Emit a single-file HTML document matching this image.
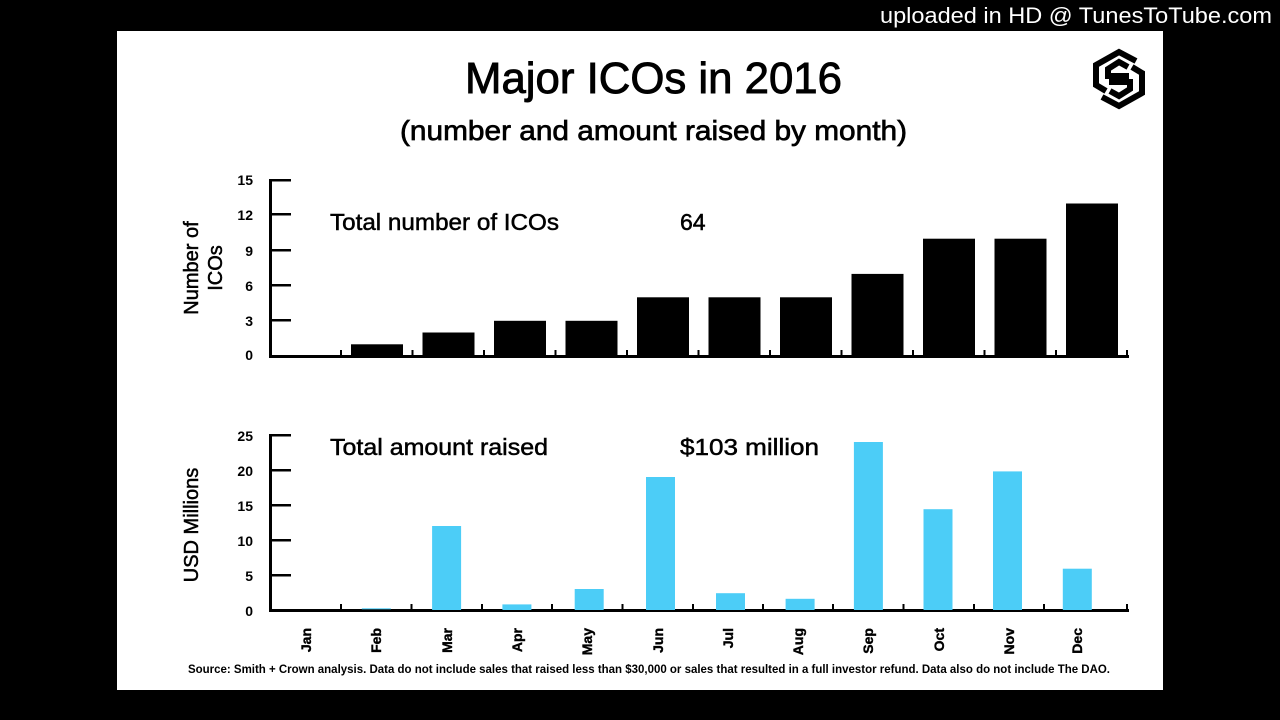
<!DOCTYPE html>
<html><head><meta charset="utf-8"><style>
html,body{margin:0;padding:0;background:#000;width:1280px;height:720px;overflow:hidden}
svg{display:block}
text{font-family:"Liberation Sans",sans-serif}
</style></head><body>
<svg width="1280" height="720" viewBox="0 0 1280 720" xmlns="http://www.w3.org/2000/svg">
<rect width="1280" height="720" fill="#000"/>
<text x="880" y="23" fill="#fff" font-size="22" textLength="392" lengthAdjust="spacingAndGlyphs">uploaded in HD @ TunesToTube.com</text>
<rect x="117" y="31" width="1046" height="659" fill="#fff"/>
<text x="465" y="93" font-size="44" fill="#000" stroke="#000" stroke-width="0.9" textLength="377" lengthAdjust="spacingAndGlyphs">Major ICOs in 2016</text>
<text x="400" y="140" font-size="28" fill="#000" stroke="#000" stroke-width="0.7" textLength="507" lengthAdjust="spacingAndGlyphs">(number and amount raised by month)</text>
<!-- logo -->
<g fill="none" stroke="#000" stroke-width="6" stroke-linejoin="miter">
<path d="M1136,61 L1119,52 L1096,65 L1096,85 L1106,91"/>
<path d="M1129,76 L1108,76 L1108,69 L1119,62 L1128,67"/>
<path d="M1102,97 L1119,106 L1142,93 L1142,73 L1132,67"/>
<path d="M1109,82 L1130,82 L1130,89 L1119,96 L1110,91"/>
</g>
<!-- top chart -->
<g fill="#000">
<text x="330" y="230" font-size="23" stroke="#000" stroke-width="0.5" textLength="229" lengthAdjust="spacingAndGlyphs">Total number of ICOs</text>
<text x="680" y="230" font-size="23" stroke="#000" stroke-width="0.5">64</text>
<g font-size="14" font-weight="bold" text-anchor="end">
<text x="253" y="185">15</text><text x="253" y="220">12</text><text x="253" y="256">9</text>
<text x="253" y="291">6</text><text x="253" y="326">3</text><text x="253" y="360">0</text>
</g>
<text transform="translate(198,268) rotate(-90)" font-size="20" stroke="#000" stroke-width="0.5" text-anchor="middle">Number of</text>
<text transform="translate(222,268) rotate(-90)" font-size="20" stroke="#000" stroke-width="0.5" text-anchor="middle">ICOs</text>
<rect x="269" y="179" width="3" height="179"/>
<rect x="269" y="355" width="860" height="3"/>
<rect x="269" y="179" width="22" height="2.5"/><rect x="269" y="213" width="22" height="2.5"/>
<rect x="269" y="249" width="22" height="2.5"/><rect x="269" y="284" width="22" height="2.5"/>
<rect x="269" y="319" width="22" height="2.5"/>
<g>
<rect x="340" y="350" width="2" height="6"/><rect x="411.5" y="350" width="2" height="6"/><rect x="483" y="350" width="2" height="6"/>
<rect x="554.5" y="350" width="2" height="6"/><rect x="626" y="350" width="2" height="6"/><rect x="697.5" y="350" width="2" height="6"/>
<rect x="769" y="350" width="2" height="6"/><rect x="840.5" y="350" width="2" height="6"/><rect x="912" y="350" width="2" height="6"/>
<rect x="983.5" y="350" width="2" height="6"/><rect x="1055" y="350" width="2" height="6"/><rect x="1126" y="350" width="2" height="6"/>
</g>
<rect x="351" y="344.3" width="52" height="11.7"/>
<rect x="422.5" y="332.5" width="52" height="23.5"/>
<rect x="494" y="320.8" width="52" height="35.2"/>
<rect x="565.5" y="320.8" width="52" height="35.2"/>
<rect x="637" y="297.3" width="52" height="58.7"/>
<rect x="708.5" y="297.3" width="52" height="58.7"/>
<rect x="780" y="297.3" width="52" height="58.7"/>
<rect x="851.5" y="273.9" width="52" height="82.1"/>
<rect x="923" y="238.7" width="52" height="117.3"/>
<rect x="994.5" y="238.7" width="52" height="117.3"/>
<rect x="1066" y="203.5" width="52" height="152.5"/>
</g>
<!-- bottom chart -->
<g fill="#000">
<text x="330" y="455" font-size="23" stroke="#000" stroke-width="0.5" textLength="218" lengthAdjust="spacingAndGlyphs">Total amount raised</text>
<text x="680" y="455" font-size="23" stroke="#000" stroke-width="0.5" textLength="139" lengthAdjust="spacingAndGlyphs">$103 million</text>
<g font-size="14" font-weight="bold" text-anchor="end">
<text x="253" y="441">25</text><text x="253" y="476">20</text><text x="253" y="511">15</text>
<text x="253" y="546">10</text><text x="253" y="581">5</text><text x="253" y="616">0</text>
</g>
<text transform="translate(198,525) rotate(-90)" font-size="20" stroke="#000" stroke-width="0.5" text-anchor="middle">USD Millions</text>
<rect x="269" y="434" width="3" height="178"/>
<rect x="269" y="609" width="860" height="3"/>
<rect x="269" y="434" width="22" height="2.5"/><rect x="269" y="469" width="22" height="2.5"/>
<rect x="269" y="504" width="22" height="2.5"/><rect x="269" y="539" width="22" height="2.5"/>
<rect x="269" y="574" width="22" height="2.5"/>
<g>
<rect x="340" y="604" width="2" height="6"/><rect x="410.5" y="604" width="2" height="6"/><rect x="481" y="604" width="2" height="6"/>
<rect x="551" y="604" width="2" height="6"/><rect x="621.5" y="604" width="2" height="6"/><rect x="692" y="604" width="2" height="6"/>
<rect x="762" y="604" width="2" height="6"/><rect x="832" y="604" width="2" height="6"/><rect x="902.5" y="604" width="2" height="6"/>
<rect x="973" y="604" width="2" height="6"/><rect x="1043" y="604" width="2" height="6"/><rect x="1126" y="604" width="2" height="6"/>
</g>
<g font-size="14" font-weight="bold" stroke="#000" stroke-width="0.4" text-anchor="end">
<text transform="translate(311,628) rotate(-90)">Jan</text>
<text transform="translate(381,628) rotate(-90)">Feb</text>
<text transform="translate(452,628) rotate(-90)">Mar</text>
<text transform="translate(522,628) rotate(-90)">Apr</text>
<text transform="translate(592,628) rotate(-90)">May</text>
<text transform="translate(663,628) rotate(-90)">Jun</text>
<text transform="translate(733,628) rotate(-90)">Jul</text>
<text transform="translate(803,628) rotate(-90)">Aug</text>
<text transform="translate(873,628) rotate(-90)">Sep</text>
<text transform="translate(944,628) rotate(-90)">Oct</text>
<text transform="translate(1014,628) rotate(-90)">Nov</text>
<text transform="translate(1082,628) rotate(-90)">Dec</text>
</g>
<text x="188" y="673" font-size="12" font-weight="bold" textLength="922" lengthAdjust="spacingAndGlyphs">Source: Smith + Crown analysis. Data do not include sales that raised less than $30,000 or sales that resulted in a full investor refund. Data also do not include The DAO.</text>
</g>
<g fill="#4ccdf7">
<rect x="361.8" y="608.3" width="29" height="1"/>
<rect x="432.1" y="526" width="29" height="84"/>
<rect x="502.4" y="604.4" width="29" height="5.6"/>
<rect x="574.7" y="589" width="29" height="21"/>
<rect x="646" y="477" width="29" height="133"/>
<rect x="716" y="593.2" width="29" height="16.8"/>
<rect x="785.6" y="598.8" width="29" height="11.2"/>
<rect x="853.9" y="442" width="29" height="168"/>
<rect x="923.5" y="509.2" width="29" height="100.8"/>
<rect x="993" y="471.4" width="29" height="138.6"/>
<rect x="1062.8" y="568.7" width="29" height="41.3"/>
</g>
</svg>
</body></html>
